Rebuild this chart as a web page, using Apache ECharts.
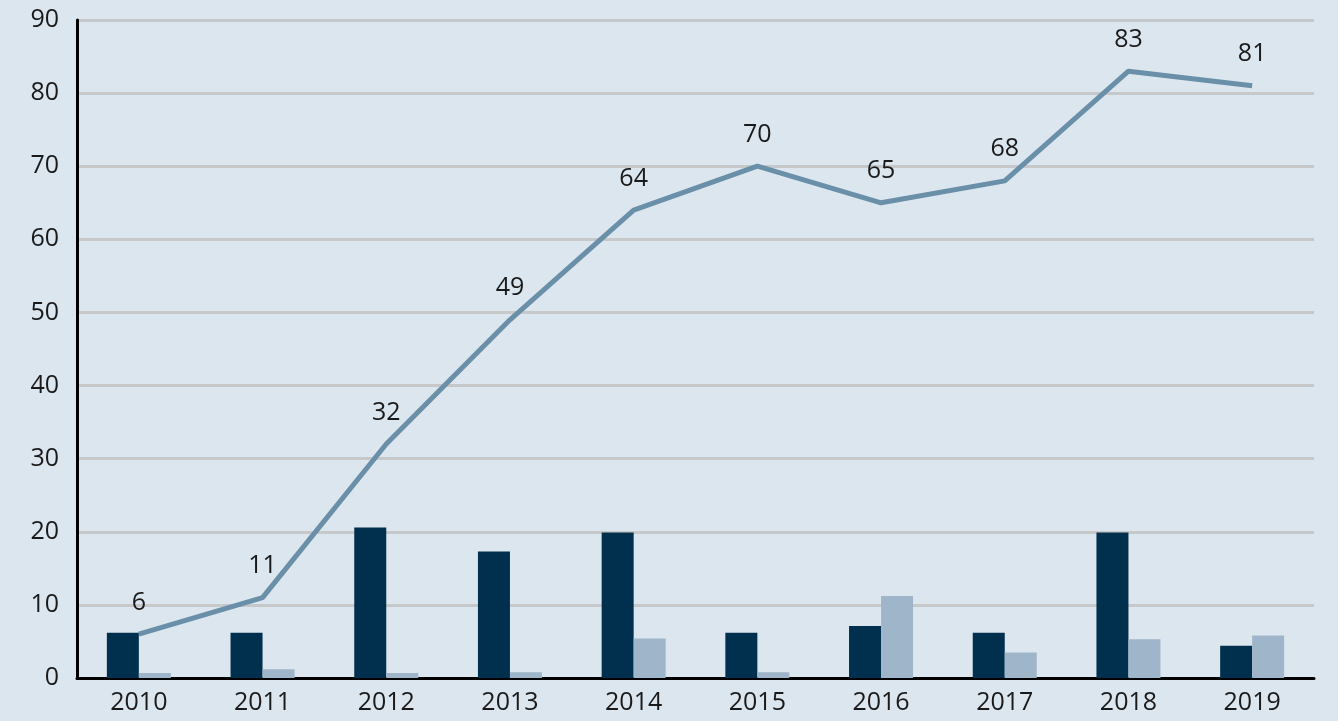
<!DOCTYPE html>
<html>
<head>
<meta charset="utf-8">
<script src="https://cdn.jsdelivr.net/npm/echarts@6/dist/echarts.min.js"></script>
<style>
  html, body { margin: 0; padding: 0; background: #dce6ee; }
  #main { width: 1338px; height: 721px; }
</style>
</head>
<body>
<div id="main"></div>
<script>
var years = ['2010', '2011', '2012', '2013', '2014', '2015', '2016', '2017', '2018', '2019'];
var darkBars = [6.2, 6.2, 20.6, 17.3, 19.9, 6.2, 7.1, 6.2, 19.9, 4.4];
var lightBars = [0.7, 1.2, 0.7, 0.8, 5.4, 0.8, 11.2, 3.5, 5.3, 5.8];
var lineValues = [6, 11, 32, 49, 64, 70, 65, 68, 83, 81];

var myChart = echarts.init(document.getElementById('main'));
var labelFont = { fontFamily: 'Open Sans', fontSize: 25, color: '#1a1a1a' };

var option = {
  backgroundColor: '#dce6ee',
  animation: false,
  grid: { left: 77, right: 24, top: 20, bottom: 43 },
  xAxis: {
    type: 'category',
    data: years,
    axisLine: { show: true, lineStyle: { color: '#000', width: 3 } },
    axisTick: { show: false },
    axisLabel: Object.assign({ margin: 12 }, labelFont)
  },
  yAxis: {
    type: 'value',
    min: 0,
    max: 90,
    interval: 10,
    axisLine: { show: true, lineStyle: { color: '#000', width: 3 } },
    axisTick: { show: false },
    splitLine: { lineStyle: { color: '#c6c8c9', width: 3 } },
    axisLabel: Object.assign({ margin: 18 }, labelFont)
  },
  series: [
    {
      type: 'bar',
      data: darkBars,
      barWidth: 32,
      barGap: '0%',
      itemStyle: { color: '#00304d' }
    },
    {
      type: 'bar',
      data: lightBars,
      barWidth: 32,
      itemStyle: { color: '#9fb5c9' }
    },
    {
      type: 'line',
      data: lineValues,
      symbol: 'circle',
      symbolSize: 2,
      showSymbol: true,
      itemStyle: { color: 'rgba(0,0,0,0)' },
      lineStyle: { color: '#6a8fa8', width: 5 },
      label: Object.assign({ show: true, position: 'top', distance: 18 }, labelFont),
      z: 5
    }
  ]
};
myChart.setOption(option);
</script>
</body>
</html>
